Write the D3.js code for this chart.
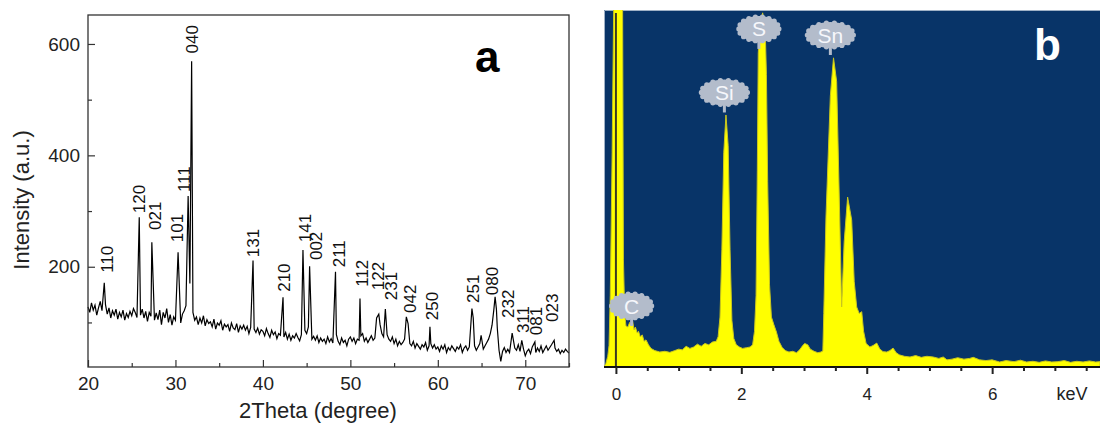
<!DOCTYPE html>
<html>
<head>
<meta charset="utf-8">
<script src="https://cdn.jsdelivr.net/npm/d3@7"></script>
<style>
  body { margin: 0; background: #fff; }
  svg { display: block; font-family: "Liberation Sans", Arial, sans-serif; }
</style>
</head>
<body>
<div id="chart"></div>
<script>
// ---- panel a: XRD ----
// baseline noise, one value every 0.2 degree from 20 to 75
var xrdStart = 20, xrdStep = 0.2;
var xrdBase = [
  128,118,135,122,131,113,126,138,121,130,
  132,115,126,108,121,113,124,106,118,110,
  122,104,116,109,120,112,125,118,109,121,
  113,124,108,120,102,118,111,126,104,117,
  105,122,96,118,108,125,100,114,95,110,
  104,118,112,99,115,121,130,140,150,135,
  118,104,110,96,108,99,112,94,105,98,
  101,92,106,88,99,95,103,86,97,92,
  96,84,99,90,87,98,82,94,88,95,
  86,93,80,91,96,88,82,90,79,87,
  84,76,89,80,73,86,78,83,71,80,
  77,85,74,82,70,79,68,76,72,80,
  73,67,78,74,86,80,92,78,70,75,
  68,76,64,72,66,70,62,74,65,71,
  63,70,78,66,60,72,64,68,58,70,
  74,66,72,62,70,68,76,80,66,72,
  64,70,76,68,72,90,84,96,80,74,
  86,78,70,66,74,62,70,58,66,60,
  64,70,84,72,62,58,66,54,62,57,
  52,60,56,64,50,58,62,54,60,52,
  56,48,58,52,60,46,55,50,58,53,
  48,56,52,60,46,54,58,50,56,62,
  75,58,50,56,62,60,52,58,64,70,
  80,95,110,120,90,50,30,48,55,46,
  52,46,58,62,54,50,60,48,45,52,
  40,48,52,44,56,50,46,54,48,58,
  46,52,58,50,55,60,62,54,48,52,
  44,50,46,52,48,45
];
// peak points [2theta, intensity]
var xrdPeaks = [
  [21.86,171],[25.86,289],[27.3,244],[30.3,226],
  [31.45,327],[31.65,170],[31.85,569],[38.87,211],[42.3,145],
  [44.58,230],[45.34,201],[48.3,191],[51.1,143],
  [53.0,108],[53.25,115],[54.0,124],[56.4,110],[56.6,98],[59.1,92],
  [63.9,125],[64.05,108],[64.95,77],[66.4,122],[66.55,146],[66.7,124],
  [68.5,81],[69.6,68],[71.1,65],[73.3,68]
];
var xrdLabels     = ["110","120","021","101","111","040","131","210","141","002","211",
                     "112","122","231","042","250","251","080","232","311","081","023"];
var xrdLabelTheta = [22.17,25.82,27.65,30.16,30.96,31.93,38.84,42.37,44.77,46.03,48.65,
                     51.28,53.1,54.6,56.76,59.27,64.06,66.23,68.06,69.77,71.26,73.0];
var xrdLabelLevel = [189,296,266,244,334,583,217,155,244,212,199,
                     164,158,140,117,104,135,149,108,81,77,101];
var xrdMajorX = [20,30,40,50,60,70], xrdMinorX = [25,35,45,55,65,75];
var xrdMajorY = [200,400,600], xrdMinorY = [100,300,500];

// ---- panel b: EDS ----
var eds = [
  [-0.19,0],[-0.16,10],[-0.13,30],[-0.11,60],[-0.09,200],[-0.06,600],[-0.03,1100],
  [0.105,1100],[0.12,300],[0.14,150],[0.16,115],[0.19,112],[0.22,125],[0.24,118],
  [0.26,135],[0.29,104],[0.31,112],[0.34,95],[0.36,100],[0.39,84],[0.42,90],[0.45,72],
  [0.48,76],[0.52,62],[0.56,52],[0.62,46],[0.7,42],[0.78,44],[0.86,41],[0.94,46],
  [1.0,50],[1.06,48],[1.12,58],[1.18,52],[1.24,56],[1.3,64],[1.36,58],[1.42,66],
  [1.48,62],[1.54,70],[1.6,72],[1.63,85],[1.66,140],[1.69,330],[1.72,600],[1.755,706],
  [1.79,620],[1.82,330],[1.85,130],[1.88,80],[1.92,62],[1.97,56],[2.02,52],[2.08,54],
  [2.14,56],[2.18,62],[2.21,100],[2.235,200],[2.255,550],[2.27,880],[2.3,960],[2.34,992],
  [2.38,950],[2.4,820],[2.42,520],[2.45,230],[2.48,140],[2.52,118],[2.56,98],[2.6,72],
  [2.65,55],[2.7,46],[2.76,42],[2.82,44],[2.88,40],[2.93,48],[2.97,58],[3.01,66],
  [3.06,62],[3.1,50],[3.16,44],[3.22,40],[3.27,42],[3.3,45],[3.315,150],[3.35,420],
  [3.42,760],[3.47,866],[3.52,800],[3.57,412],[3.6,168],[3.64,350],[3.695,476],
  [3.76,412],[3.8,240],[3.84,168],[3.88,150],[3.92,155],[3.95,100],[3.99,66],[4.05,56],
  [4.1,60],[4.16,67],[4.21,50],[4.26,43],[4.32,42],[4.37,46],[4.42,53],[4.47,40],
  [4.52,34],[4.6,30],[4.69,28],[4.78,32],[4.87,27],[4.96,30],[5.06,28],[5.15,24],
  [5.22,28],[5.28,20],[5.36,22],[5.45,26],[5.55,22],[5.64,24],[5.7,27],[5.8,20],
  [5.9,18],[6.0,20],[6.12,14],[6.22,18],[6.35,15],[6.45,19],[6.55,14],[6.65,16],
  [6.75,13],[6.85,17],[6.95,14],[7.05,15],[7.15,18],[7.25,13],[7.35,16],[7.45,14],
  [7.55,17],[7.65,14],[7.72,15]
];
var edsLabels     = ["C","Si","S","Sn"];
var edsLabelKeV   = [0.25,1.73,2.28,3.42];
var edsLabelLevel = [171,769,947,930];
var edsMajorX = [0,2,4,6];
var edsMinorX = [0.5,1,1.5,2.5,3,3.5,4.5,5,5.5,6.5,7,7.5];

var width = 1100, height = 427;

var svg = d3.select("#chart").append("svg")
    .attr("width", width)
    .attr("height", height);

// ================= panel a =================
var xA = d3.scaleLinear().domain([20, 75]).range([88, 569]);
var yA = d3.scaleLinear().domain([20, 652]).range([367, 15]);

var xrd = xrdBase.map((v, i) => [xrdStart + i * xrdStep, v])
    .filter(d => !xrdPeaks.some(p => Math.abs(p[0] - d[0]) < 0.1))
    .concat(xrdPeaks)
    .sort((a, b) => a[0] - b[0]);

var gA = svg.append("g");

gA.append("path")
    .datum(xrd)
    .attr("fill", "none")
    .attr("stroke", "#000")
    .attr("stroke-width", 1.2)
    .attr("d", d3.line().x(d => xA(d[0])).y(d => yA(d[1])));

var styleAxis = g => {
    g.select(".domain").remove();
    g.selectAll(".tick line").attr("stroke", "#333").attr("stroke-width", 1.2);
    g.selectAll(".tick text").attr("fill", "#222").style("font-size", "19px")
        .style("font-family", "Liberation Sans, Arial, sans-serif");
};

gA.append("g")
    .attr("transform", "translate(0,367)")
    .call(d3.axisBottom(xA).tickValues(xrdMajorX).tickSize(-7).tickPadding(10))
    .call(styleAxis);
gA.append("g")
    .attr("transform", "translate(0,367)")
    .call(d3.axisBottom(xA).tickValues(xrdMinorX).tickSize(-4).tickFormat(""))
    .call(styleAxis);
gA.append("g")
    .attr("transform", "translate(88,0)")
    .call(d3.axisLeft(yA).tickValues(xrdMajorY).tickSize(-7).tickPadding(8))
    .call(styleAxis);
gA.append("g")
    .attr("transform", "translate(88,0)")
    .call(d3.axisLeft(yA).tickValues(xrdMinorY).tickSize(-4).tickFormat(""))
    .call(styleAxis);

gA.append("rect")
    .attr("x", 88).attr("y", 15)
    .attr("width", 481).attr("height", 352)
    .attr("fill", "none")
    .attr("stroke", "#333")
    .attr("stroke-width", 1.3);

gA.selectAll(".hkl")
    .data(xrdLabels)
    .enter().append("text")
    .attr("class", "hkl")
    .attr("transform", (d, i) => `translate(${xA(xrdLabelTheta[i])},${yA(xrdLabelLevel[i])}) rotate(-90)`)
    .attr("dy", "0.36em")
    .attr("fill", "#111")
    .style("font-size", "17px")
    .text(d => d);

gA.append("text")
    .attr("x", 318).attr("y", 418)
    .attr("text-anchor", "middle")
    .attr("fill", "#222")
    .style("font-size", "22px")
    .text("2Theta (degree)");

gA.append("text")
    .attr("transform", "translate(21,200) rotate(-90)")
    .attr("text-anchor", "middle")
    .attr("dy", "0.35em")
    .attr("fill", "#222")
    .style("font-size", "22px")
    .text("Intensity (a.u.)");

gA.append("text")
    .attr("x", 475).attr("y", 72)
    .attr("fill", "#000")
    .style("font-size", "44px")
    .style("font-weight", "bold")
    .text("a");

// ================= panel b =================
var xB = d3.scaleLinear().domain([-0.19, 7.72]).range([604, 1100]);
var yB = d3.scaleLinear().domain([0, 1000]).range([367, 10]);

var gB = svg.append("g");

gB.append("clipPath").attr("id", "clipB")
    .append("rect").attr("x", 604).attr("y", 10).attr("width", 496).attr("height", 357);

gB.append("rect")
    .attr("x", 604).attr("y", 10)
    .attr("width", 496).attr("height", 357)
    .attr("fill", "#083468");

gB.append("path")
    .attr("d", "M604.5,367V10.5H1100")
    .attr("fill", "none")
    .attr("stroke", "#9fb1c6")
    .attr("stroke-width", 1);

gB.append("path")
    .datum(eds)
    .attr("clip-path", "url(#clipB)")
    .attr("fill", "#ffff00")
    .attr("stroke", "#c9c61e")
    .attr("stroke-width", 1)
    .attr("d", d3.area().x(d => xB(d[0])).y0(yB(0)).y1(d => yB(d[1])));

gB.append("line")
    .attr("x1", xB(0)).attr("x2", xB(0))
    .attr("y1", 367).attr("y2", 13)
    .attr("stroke", "#3b3a22")
    .attr("stroke-width", 2);

// element bubbles
var bubble = gB.selectAll(".bubble")
    .data(edsLabels)
    .enter().append("g")
    .attr("class", "bubble")
    .attr("transform", (d, i) => `translate(${xB(edsLabelKeV[i])},${yB(edsLabelLevel[i])})`);

bubble.append("rect")
    .attr("x", -1.5).attr("y", 10).attr("width", 3).attr("height", 10)
    .attr("fill", "#b3bccb");

bubble.each(function(d) {
    var g = d3.select(this);
    var rx = d.length > 1 ? 24 : 21, ry = 13;
    g.selectAll("circle.bump")
        .data(d3.range(18))
        .enter().append("circle")
        .attr("cx", k => (rx - 1) * Math.cos(k / 18 * 2 * Math.PI))
        .attr("cy", k => (ry - 1) * Math.sin(k / 18 * 2 * Math.PI))
        .attr("r", 2.6)
        .attr("fill", "#b3bccb");
    g.append("ellipse")
        .attr("rx", rx).attr("ry", ry)
        .attr("fill", "#b3bccb");
});

bubble.append("text")
    .attr("text-anchor", "middle")
    .attr("dy", "0.36em")
    .attr("fill", "#f6f7fb")
    .style("font-size", "21px")
    .text(d => d);

// axis
gB.append("line")
    .attr("x1", 604).attr("x2", 1100)
    .attr("y1", 367).attr("y2", 367)
    .attr("stroke", "#111")
    .attr("stroke-width", 2);

var styleAxisB = g => {
    g.select(".domain").remove();
    g.selectAll(".tick line").attr("stroke", "#222").attr("stroke-width", 2);
    g.selectAll(".tick text").attr("fill", "#222").style("font-size", "17px")
        .style("font-family", "Liberation Sans, Arial, sans-serif");
};

gB.append("g")
    .attr("transform", "translate(0,367)")
    .call(d3.axisBottom(xB).tickValues(edsMajorX).tickSize(7).tickPadding(14))
    .call(styleAxisB);
gB.append("g")
    .attr("transform", "translate(0,367)")
    .call(d3.axisBottom(xB).tickValues(edsMinorX).tickSize(4).tickFormat(""))
    .call(styleAxisB);

gB.append("text")
    .attr("x", 1072).attr("y", 394)
    .attr("text-anchor", "middle")
    .attr("dy", "0.36em")
    .attr("fill", "#222")
    .style("font-size", "18px")
    .text("keV");

gB.append("text")
    .attr("x", 1034).attr("y", 60)
    .attr("fill", "#fff")
    .style("font-size", "44px")
    .style("font-weight", "bold")
    .text("b");
</script>
</body>
</html>
